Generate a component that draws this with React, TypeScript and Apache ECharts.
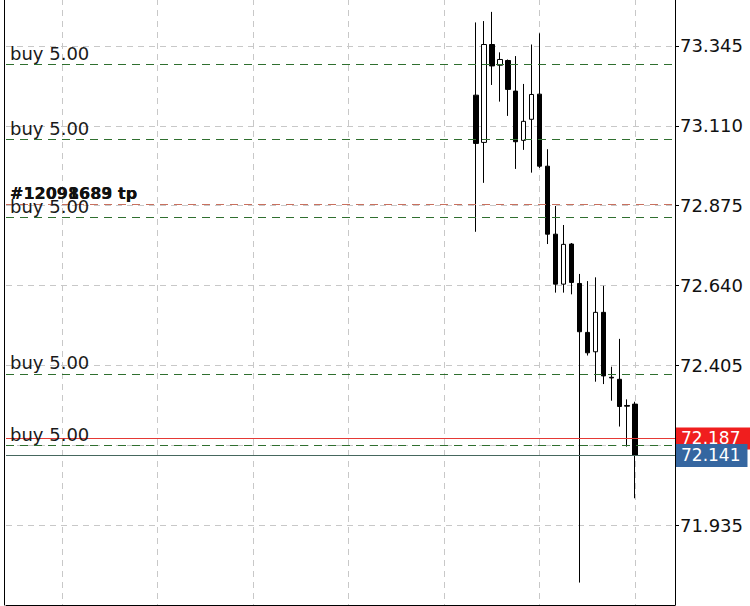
import React, { useEffect, useRef } from "react";
import * as echarts from "echarts";

// ---- data ----
const totalSlots = 85; // time slots on the x axis (most empty)
const firstCandleSlot = 59;
const slotLabels: string[] = Array.from({ length: totalSlots }, (_, i) => String(i));

const opens = [73.200, 73.061, 73.349, 73.288, 73.302, 73.212, 73.067, 73.129, 73.203, 72.991, 72.791, 72.644, 72.762, 72.646, 72.502, 72.445, 72.561, 72.370, 72.364, 72.287, 72.291];
const closes = [73.058, 73.349, 73.286, 73.305, 73.217, 73.063, 73.123, 73.202, 72.991, 72.791, 72.644, 72.761, 72.649, 72.504, 72.442, 72.561, 72.374, 72.368, 72.284, 72.285, 72.141];
const lows = [72.798, 72.942, 73.230, 73.181, 73.139, 72.983, 73.039, 72.972, 72.986, 72.762, 72.619, 72.619, 72.614, 71.766, 72.434, 72.357, 72.350, 72.301, 72.225, 72.166, 72.014];
const highs = [73.414, 73.418, 73.445, 73.326, 73.305, 73.315, 73.233, 73.349, 73.382, 73.041, 72.874, 72.818, 72.765, 72.674, 72.653, 72.664, 72.639, 72.401, 72.483, 72.305, 72.298];

const buyLevels = [73.291, 73.067, 72.841, 72.382, 72.172];
const buyLabel = "buy 5.00";
const tpLevel = 72.878;
const tpTickets = ["#12098689 tp", "#12091683 tp"];
const askPrice = 72.187;
const bidPrice = 72.141;

const yMin = 71.7;
const yMax = 73.58;
const yStep = 0.235;

export default function App() {
  const ref = useRef<HTMLDivElement>(null);
  useEffect(() => {
    if (!ref.current) return;
    const chart = echarts.init(ref.current, null, { renderer: "svg" });

    const candleData: any[] = [];
    for (let i = 0; i < totalSlots; i++) {
      const k = i - firstCandleSlot;
      if (k >= 0 && k < opens.length) {
        candleData.push([opens[k], closes[k], lows[k], highs[k]]);
      } else {
        candleData.push("-");
      }
    }

    const gridLine = { color: "#c8c8c8", type: [6, 5] as any, width: 1 };
    const font = "DejaVu Sans";

    const markData: any[] = [];
    buyLevels.forEach((v) => {
      markData.push({
        yAxis: v,
        lineStyle: { color: "#2f6f2f", type: [8, 6], width: 1, opacity: 1 },
        label: {
          show: true,
          position: "insideStartTop",
          distance: [4, 2],
          formatter: buyLabel,
          color: "#1a1a1a",
          fontSize: 18,
          fontFamily: font,
        },
      });
    });
    tpTickets.forEach((t) => {
      markData.push({
        yAxis: tpLevel,
        lineStyle: { color: "#c8705e", type: [8, 6], width: 1, opacity: 1 },
        label: {
          show: true,
          position: "insideStartTop",
          distance: [4, 2],
          formatter: t,
          color: "#111",
          fontSize: 16,
          fontWeight: "bold",
          fontFamily: font,
        },
      });
    });
    markData.push({
      yAxis: askPrice,
      lineStyle: { color: "#e53935", type: "solid", width: 1, opacity: 1 },
      label: {
        show: true,
        position: "end",
        distance: 1,
        formatter: askPrice.toFixed(3),
        color: "#fff",
        backgroundColor: "#f01e1e",
        padding: [2, 12, 2, 5],
        lineHeight: 18,
        fontSize: 17,
        fontFamily: font,
      },
    });
    markData.push({
      yAxis: bidPrice,
      lineStyle: { color: "#46675e", type: "solid", width: 1, opacity: 1 },
      label: {
        show: true,
        position: "end",
        distance: 1,
        formatter: bidPrice.toFixed(3),
        color: "#fff",
        backgroundColor: "#3566a0",
        padding: [3, 7, 2, 5],
        lineHeight: 18,
        fontSize: 17,
        fontFamily: font,
      },
    });

    chart.setOption({
      animation: false,
      backgroundColor: "#fff",
      grid: { left: 6, right: 75, top: 0, bottom: 1 },
      xAxis: {
        type: "category",
        data: slotLabels,
        boundaryGap: false,
        axisLine: { show: true, lineStyle: { color: "#000", width: 1 } },
        axisTick: {
          show: true,
          interval: (i: number) => (i - 7) % 24 === 0,
          length: 5,
          lineStyle: { color: "#000" },
        },
        axisLabel: { show: false },
        splitLine: {
          show: true,
          interval: (i: number) => (i - 7) % 12 === 0,
          lineStyle: gridLine,
        },
      },
      yAxis: [
        {
          type: "value",
          position: "right",
          min: yMin,
          max: yMax,
          interval: yStep,
          axisLine: { show: true, lineStyle: { color: "#000", width: 1 } },
          axisTick: { show: true, length: 4, lineStyle: { color: "#000" } },
          axisLabel: {
            margin: 5,
            color: "#111",
            fontSize: 18,
            fontFamily: font,
            showMinLabel: false,
            showMaxLabel: false,
            formatter: (v: number) => v.toFixed(3),
          },
          splitLine: { show: true, lineStyle: gridLine },
        },
        {
          type: "value",
          position: "left",
          min: yMin,
          max: yMax,
          offset: 2,
          axisLine: { show: true, lineStyle: { color: "#000", width: 1 } },
          axisTick: { show: false },
          axisLabel: { show: false },
          splitLine: { show: false },
        },
      ],
      series: [
        {
          type: "line",
          name: "levels",
          data: [],
          z: 1,
          silent: true,
          markLine: {
            silent: true,
            animation: false,
            symbol: ["none", "none"],
            data: markData,
          },
        },
        {
          type: "candlestick",
          name: "price",
          z: 3,
          data: candleData,
          barWidth: 5,
          itemStyle: {
            color: "#ffffff",
            color0: "#000000",
            borderColor: "#000000",
            borderColor0: "#000000",
            borderColorDoji: "#000000",
            borderWidth: 1,
          },
        },
      ],
    });
    return () => chart.dispose();
  }, []);

  return (
    <div style={{ position: "absolute", left: 0, top: 0, width: 750, height: 606, overflow: "hidden", background: "#fff" }}>
      <div
        ref={ref}
        style={{ position: "absolute", left: 0, top: -34, width: 750, height: 640 }}
      />
    </div>
  );
}
